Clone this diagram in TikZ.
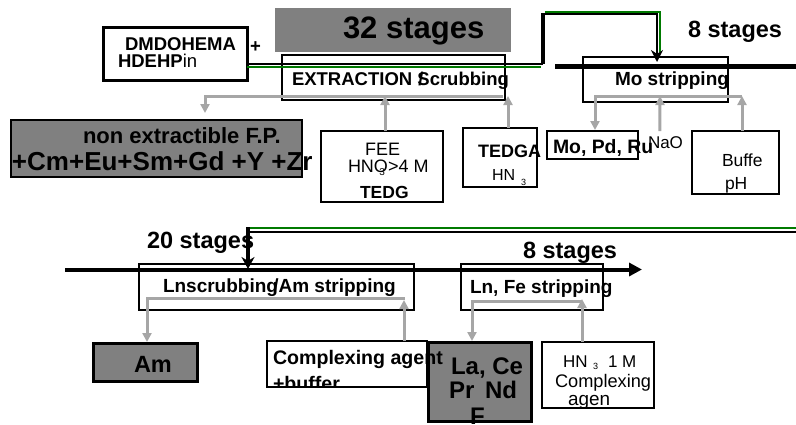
\documentclass[tikz,border=0pt]{standalone}
\usepackage{fontspec}
\setmainfont{Liberation Sans}
\usetikzlibrary{arrows.meta}
\definecolor{fpgray}{HTML}{808080}
\definecolor{arrgray}{HTML}{A6A6A6}
\definecolor{flowgreen}{HTML}{007A00}
\newcommand\myfs[1]{\fontsize{#1pt}{#1pt}\selectfont}
\begin{document}
\begin{tikzpicture}[x=1pt,y=-1pt,
  box/.style={draw=black, line width=2.5pt, inner sep=0pt, outer sep=0pt, rectangle},
  gbox/.style={box, fill=fpgray},
  txt/.style={inner sep=0pt, outer sep=0pt, anchor=base west},
  bt/.style={txt, font=\bfseries\myfs{#1}},
  rt/.style={txt, font=\myfs{#1}},
  garrow/.style={draw=arrgray, line width=3pt, -{Triangle[length=9pt,width=9pt]}},
  thinflow/.style={draw=black, line width=2pt},
  gflow/.style={draw=flowgreen, line width=2pt},
  thickflow/.style={draw=black, line width=#1},
]
\useasboundingbox (0,0) rectangle (796,424);

% gray stage banner
\node[fill=fpgray, inner sep=0pt, outer sep=0pt, minimum width=236pt, minimum height=44pt] (stg32) at (393,30) {};

% boxes
\node[box, line width=3pt, minimum width=144pt, minimum height=53pt] (dmd) at (175,53.5) {};
\node[box, minimum width=223pt, minimum height=45pt] (ext) at (393.5,77.5) {};
\node[box, minimum width=145pt, minimum height=45pt] (mo) at (655.5,79.5) {};
\node[gbox, line width=1.5pt, minimum width=291pt, minimum height=57pt] (nonext) at (156.5,148.5) {};
\node[box, minimum width=122pt, minimum height=71pt] (feed) at (382,166.5) {};
\node[box, minimum width=74pt, minimum height=59pt] (tedga) at (500,157.5) {};
\node[box, minimum width=91pt, minimum height=28pt] (mopdru) at (592.5,145) {};
\node[box, minimum width=87pt, minimum height=63pt] (buffer) at (735.5,162.5) {};
\node[box, minimum width=275pt, minimum height=46pt] (lnscr) at (276.5,287) {};
\node[box, minimum width=142pt, minimum height=46pt] (lnfe) at (532,287) {};
\node[gbox, line width=3pt, minimum width=104pt, minimum height=38pt] (am) at (145,362) {};
\node[box, minimum width=160pt, minimum height=46pt] (cplx) at (347,364) {};
\node[gbox, line width=3pt, minimum width=103pt, minimum height=79pt] (lace) at (479.5,381.5) {};
\node[box, minimum width=112pt, minimum height=66pt] (hno) at (598,375) {};

% flow lines, top
\coordinate (kA) at (543,64);
\coordinate (kB) at (543,14);
\coordinate (kC) at (657,14);
\coordinate (gA) at (541,67);
\coordinate (gB) at (545,11.5);
\coordinate (gC) at (660,11.5);
\coordinate (gD) at (660,52);
\coordinate (mtA) at (555,66);
\coordinate (mtB) at (796,66);
\draw[gflow] ([yshift=-13.5pt]dmd.east) -- (gA);
\draw[gflow] (gB) -- (gC) -- (gD);
\draw[thinflow] ([yshift=-10.5pt]dmd.east) -- (kA);
\draw[thickflow=4pt] (kA) -- ([yshift=1.5pt]kB);
\draw[thinflow, -{Stealth[length=12pt,width=12pt]}] (kB) -- (kC) -- ([xshift=1.5pt,yshift=-5pt]mo.north);
\draw[thickflow=5pt] (mtA) -- (mtB);

% flow lines, bottom
\coordinate (bgA) at (247,228);
\coordinate (bgB) at (796,228);
\coordinate (bkA) at (250,231.5);
\coordinate (bkB) at (796,231.5);
\coordinate (vA) at (248,227);
\coordinate (vB) at (248,269);
\coordinate (mbA) at (65,269.5);
\coordinate (mbB) at (642,269.5);
\draw[gflow] (bgA) -- (bgB);
\draw[thinflow] (bkA) -- (bkB);
\draw[thickflow=4pt, -{Triangle[length=13pt,width=13pt]}] (mbA) -- (mbB);
\draw[thickflow=3.5pt, -{Stealth[length=12pt,width=13pt]}] (vA) -- (vB);

% texts
\node[bt=31] (t32) at (343,38) {32 stages};
\node[bt=23.5] (t8a) at (688,37) {8 stages};
\node[bt=18.5] (dmd1) at (125,50) {DMDOHEMA};
\node[txt, font=\myfs{18.5}] (dmd2) at (118,67) {\textbf{HDEHP}in};
\node[bt=18.5] (plus) at (250,52) {+};
\node[bt=18.5] (extt) at (292,85) {EXTRACTION \makebox[0pt][l]{\kern1pt/}Scrubbing};
\node[bt=19] (mot) at (615,85) {Mo stripping};
\node[bt=22] (nonext1) at (83,143) {non extractible F.P.};
\node[bt=26] (nonext2) at (12,170) {+Cm+Eu+Sm+Gd +Y +Zr};
\node[rt=18] (feed1) at (365,155) {FEE};
\node[rt=18] (feed2) at (348,172) {HNO\llap{\raisebox{-3pt}{\myfs{10}3}\kern3pt}>4 M};
\node[bt=17.5] (feed3) at (360,198) {TEDG};
\node[bt=18] (tedga1) at (478,157) {TEDGA};
\node[rt=16] (tedga2) at (492,180) {HN};
\node[rt=9] (tedga3) at (521,185) {3};
\node[bt=19.4] (mopdrut) at (553,153) {Mo, Pd, Ru};
\node[rt=17] (nao) at (648,148) {NaO};
\node[rt=17.5] (buf1) at (722,166) {Buffe};
\node[rt=17.5] (buf2) at (725,189) {pH};
\node[bt=23.5] (t20) at (147,248) {20 stages};
\node[bt=23.5] (t8b) at (523,258) {8 stages};
\node[bt=19] (lnscrt) at (163,292) {Lnscrubbing\kern-0.25em/Am stripping};
\node[bt=19] (lnfet) at (470,293) {Ln, Fe stripping};
\node[bt=23.5] (amt) at (134,372) {Am};
\begin{scope}
  \clip (260,335) rectangle (460,386);
  \node[bt=19.6] (cplx1) at (273,364) {Complexing agent};
  \node[bt=19.6] (cplx2) at (273,390) {+buffer};
\end{scope}
\node[bt=24] (lace1) at (451,374) {La, Ce};
\node[bt=24] (lace2) at (449,398) {Pr\hspace{4pt} Nd};
\node[bt=24] (lace3) at (470,424) {F};
\begin{scope}
  \clip (540,335) rectangle (665,406.5);
  \node[rt=17] (hno1) at (563,367) {HN};
  \node[rt=9] (hno1s) at (593,369) {3};
  \node[rt=17] (hno1b) at (608,367) {1 M};
  \node[rt=18.2] (hno2) at (555,387) {Complexing};
  \node[rt=18.9] (hno3) at (568,405) {agen};
\end{scope}

% gray connectors
\draw[garrow] ([xshift=-2pt,yshift=4pt]ext.south east) -| ([xshift=48.5pt,yshift=7pt]nonext.north);
\draw[garrow] ([xshift=8pt]tedga.north) -- ([xshift=3pt,yshift=4pt]ext.south east);
\draw[garrow] ([xshift=3pt]feed.north) -- ([xshift=-8.5pt,yshift=4pt]ext.south);
\draw[garrow] ([xshift=14pt,yshift=6pt]mo.south east) -| ([xshift=2.5pt,yshift=1pt]mopdru.north);
\draw[garrow] ([xshift=6.5pt]buffer.north) -- ([xshift=14pt,yshift=6pt]mo.south east);
\draw[garrow] ([xshift=-5.5pt,yshift=5pt]nao.north) -- ([xshift=4.5pt,yshift=6pt]mo.south);
\draw[garrow] ([xshift=-9pt,yshift=12pt]lnscr.south east) -| ([xshift=2pt,yshift=1pt]am.north);
\draw[garrow] ([xshift=57pt]cplx.north) -- ([xshift=-10pt,yshift=10pt]lnscr.south east);
\draw[garrow] ([xshift=-21pt,yshift=9pt]lnfe.south east) -| ([xshift=-7.5pt,yshift=1pt]lace.north);
\draw[garrow] ([xshift=-16pt]hno.north) -- ([xshift=-21pt,yshift=11pt]lnfe.south east);
\end{tikzpicture}
\end{document}
